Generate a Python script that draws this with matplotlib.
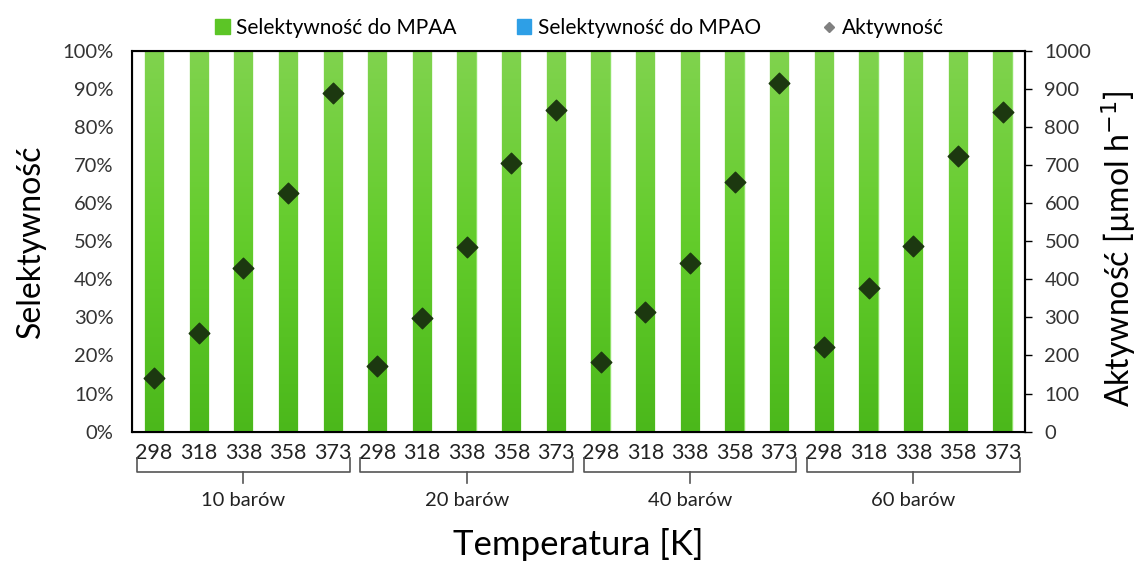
import numpy as np
import matplotlib
matplotlib.use("Agg")
import matplotlib.pyplot as plt
from matplotlib.lines import Line2D
from matplotlib.patches import Patch
from matplotlib.colors import LinearSegmentedColormap

plt.rcParams['font.family'] = ['Lato', 'DejaVu Sans']

temps = ["298", "318", "338", "358", "373"]
groups = ["10 barów", "20 barów", "40 barów", "60 barów"]
sel_mpaa = [100] * 20
sel_mpao = [0] * 20
activity = [142, 258, 430, 626, 890,
            172, 298, 486, 705, 844,
            182, 315, 444, 656, 916,
            223, 376, 488, 724, 840]

x = np.arange(len(sel_mpaa)) + 0.5
labels = temps * len(groups)

fig = plt.figure(figsize=(11.41, 5.61), dpi=100)
ax = fig.add_axes([0.1154, 0.2305, 0.7829, 0.6791])

green_cmap = LinearSegmentedColormap.from_list("g", ["#4bb81b", "#63cc2b", "#80d34e"])
bars = ax.bar(x, sel_mpaa, width=0.41, color="#5cc526", edgecolor="#8fe067", linewidth=1.0)
ax.bar(x, sel_mpao, bottom=sel_mpaa, width=0.41, color="#2e9fe6")
grad = np.linspace(0, 1, 256).reshape(-1, 1)
for b in bars:
    bx, by = b.get_x(), b.get_y()
    im = ax.imshow(grad, cmap=green_cmap, origin="lower", aspect="auto",
                   extent=[bx, bx + b.get_width(), by, by + b.get_height()], zorder=2)
    im.set_clip_path(b)

ax.set_xlim(0, 20)
ax.set_ylim(0, 100)
ax.set_yticks(np.arange(0, 101, 10))
ax.set_yticklabels([f"{v}%" for v in range(0, 101, 10)], fontsize=14.5, color="#333333")
ax.set_xticks(x)
ax.set_xticklabels(labels, fontsize=15.5, color="#222222")
ax.tick_params(axis="x", length=0, pad=8)
ax.tick_params(axis="y", length=0, pad=13)
ax.set_ylabel("Selektywność", fontsize=23, labelpad=12)
for s in ax.spines.values():
    s.set_linewidth(1.5)

ax2 = ax.twinx()
ax2.scatter(x, activity, marker="D", s=110, color="#1c3810", zorder=5)
ax2.set_ylim(0, 1000)
ax2.set_yticks(np.arange(0, 1001, 100))
ax2.tick_params(axis="y", labelsize=14.5, labelcolor="#333333", length=5, width=1,
                direction="out", pad=9)
ax2.spines["right"].set_linewidth(1.5)
fig.text(0.9805, 0.556, "Aktywność [µmol h$^{-1}$]", rotation=90, ha="center", va="center",
         fontsize=23)

# group brackets under the temperature labels
trans = ax.get_xaxis_transform()
for i, g in enumerate(groups):
    x0, x1 = i * 5 + 0.12, i * 5 + 4.88
    xm = (x0 + x1) / 2
    ax.plot([x0, x0, x1, x1], [-0.07, -0.105, -0.105, -0.07], color="#555555",
            lw=1.2, transform=trans, clip_on=False)
    ax.plot([xm, xm], [-0.105, -0.135], color="#555555", lw=1.2,
            transform=trans, clip_on=False)
    ax.text(xm, -0.18, g, transform=trans, ha="center", va="center", fontsize=14.5, color="#222222")

ax.text(10, -0.295, "Temperatura [K]", transform=trans, ha="center", va="center", fontsize=25)

handles = [Patch(facecolor="#5cc526", edgecolor="#5cc526"),
           Patch(facecolor="#2e9fe6", edgecolor="#2e9fe6"),
           Line2D([], [], marker="D", color="#808080", linestyle="none", markersize=5)]
fig.legend(handles, ["Selektywność do MPAA", "Selektywność do MPAO", "Aktywność"],
           loc="center", bbox_to_anchor=(0.508, 0.95), ncol=3, frameon=False,
           fontsize=15, handlelength=0.7, handleheight=0.7, handletextpad=0.3, columnspacing=2.9)

fig.savefig("out.png", dpi=100)
